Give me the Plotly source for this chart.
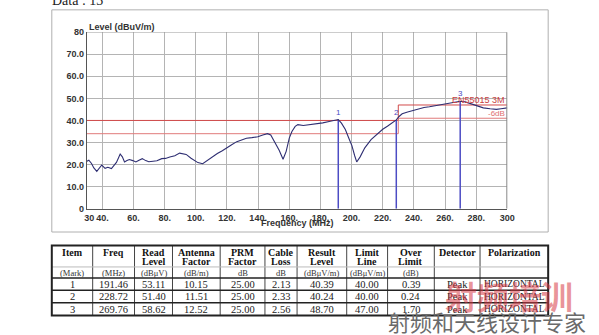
import plotly.graph_objects as go

W, H = 599, 335

# ---------------- data ----------------
freq = [30, 31.3, 33, 34.5, 36.4, 38, 39.6, 41.7, 43.5, 45.8, 47.9, 49, 50.3, 51.4, 52.8,
        54.2, 55.8, 57.3, 59.5, 61.5, 63.5, 65.6, 67.8, 69.8, 72.5, 75, 78.1, 80.5, 83.3,
        86.5, 89.6, 91.5, 93.8, 96.9, 99, 101.3, 104.4, 107.5, 110.5, 113.8, 117, 120, 123,
        126.3, 129.5, 132.5, 136, 139.8, 143, 146, 148.1, 151, 153.5, 156, 158, 160, 161.7,
        163.8, 165.5, 169, 173, 177.3, 181.5, 185.6, 188.5, 191.46, 193.5, 196, 198.5, 200.2,
        202, 203.3, 205.5, 208.5, 212.5, 216.9, 220, 223, 226, 228.72, 230.5, 232.5, 236,
        239.5, 242.9, 246.5, 250, 253.3, 257.5, 261.7, 265.5, 269.76, 273, 276.3, 280.5,
        284.6, 289, 293, 296, 300]
level = [21.5, 22.0, 20.5, 18.5, 16.9, 18.3, 19.8, 18.3, 18.8, 18.2, 20.4, 21.0, 23.0, 24.8,
         23.5, 21.2, 21.8, 22.3, 21.8, 21.2, 22.0, 22.7, 21.8, 21.3, 21.5, 21.7, 22.7, 22.8,
         23.4, 24.0, 25.2, 24.9, 24.6, 22.9, 21.8, 20.9, 20.4, 22.0, 23.4, 25.0, 26.3, 27.8,
         29.0, 30.4, 31.2, 31.9, 32.2, 32.6, 33.4, 34.0, 33.4, 30.0, 26.5, 22.4, 26.0, 32.0,
         35.0, 37.3, 38.1, 37.7, 38.0, 38.4, 38.9, 39.5, 39.9, 40.39, 38.8, 35.9, 31.5, 28.6,
         24.0, 21.2, 23.5, 27.6, 31.3, 34.3, 36.0, 37.4, 38.9, 40.24, 41.8, 43.0, 43.8, 44.6,
         45.3, 45.9, 46.2, 46.6, 47.0, 47.6, 48.1, 48.70, 48.4, 47.6, 46.6, 45.7, 45.3, 45.0,
         45.3, 45.7]

limit_freq = [30, 230, 230, 300]
limit_level = [40, 40, 47, 47]
limit6_level = [34, 34, 41, 41]

mark_id = ["1", "2", "3"]
mark_freq = [191.46, 228.72, 269.76]
mark_level = [40.39, 40.24, 48.70]

x_tickvals = [30, 40, 60, 80, 100, 120, 140, 160, 180, 200, 220, 240, 260, 280, 300]
x_ticktext = ["\u00a0\u00a030", "40.", "60.", "80.", "100.", "120.", "140.", "160.",
              "180.", "200.", "220.", "240.", "260.", "280.", "300"]
y_tickvals = [0, 10, 20, 30, 40, 50, 60, 70, 80]
y_ticktext = ["0", "10.0", "20.0", "30.0", "40.0", "50.0", "60.0", "70.0", "80"]

col_headers = ["Item", "Freq", "Read<br>Level", "Antenna<br>Factor", "PRM<br>Factor",
               "Cable<br>Loss", "Result<br>Level", "Limit<br>Line", "Over<br>Limit",
               "Detector", "Polarization"]
col_units = ["(Mark)", "(MHz)", "(dBμV)", "(dB/m)", "dB", "dB", "(dBμV/m)", "(dBμV/m)",
             "(dB)", "", ""]
t_item = ["1", "2", "3"]
t_freq = ["191.46", "228.72", "269.76"]
t_read = ["53.11", "51.40", "58.62"]
t_ant = ["10.15", "11.51", "12.52"]
t_prm = ["25.00", "25.00", "25.00"]
t_cable = ["2.13", "2.33", "2.56"]
t_result = ["40.39", "40.24", "48.70"]
t_limit = ["40.00", "40.00", "47.00"]
t_over = ["0.39", "0.24", "1.70"]
t_det = ["Peak", "Peak", "Peak"]
t_pol = ["HORIZONTAL", "HORIZONTAL", "HORIZONTAL"]


def px(x):
    return x / W


def py(y):
    return 1 - y / H


fig = go.Figure()

# limit lines
fig.add_trace(go.Scatter(x=limit_freq, y=limit_level, mode="lines",
                         line=dict(color="#d24a4a", width=1), hoverinfo="skip"))
fig.add_trace(go.Scatter(x=limit_freq, y=limit6_level, mode="lines",
                         line=dict(color="#e07a7a", width=1), hoverinfo="skip"))

# marker verticals
for f, l in zip(mark_freq, mark_level):
    fig.add_trace(go.Scatter(x=[f, f], y=[0, l], mode="lines",
                             line=dict(color="#4c4cc4", width=1.5), hoverinfo="skip"))

# trace
fig.add_trace(go.Scatter(x=freq, y=level, mode="lines",
                         line=dict(color="#2e2e72", width=1.1), hoverinfo="skip"))

tickfont = dict(family="Liberation Sans, Arial", size=9, color="#333", weight="bold")

fig.update_layout(
    width=W, height=H, margin=dict(l=0, r=0, t=0, b=0),
    paper_bgcolor="white", plot_bgcolor="white", showlegend=False,
    xaxis=dict(domain=[px(81), px(513)], range=[30, 300], tickvals=x_tickvals,
               ticktext=x_ticktext, showgrid=True, gridcolor="#b4b4b4", gridwidth=1,
               showline=True, linecolor="#555", linewidth=1, ticks="", zeroline=False,
               tickangle=0, tickfont=tickfont, fixedrange=True),
    yaxis=dict(domain=[py(210), py(28)], range=[0, 80], tickvals=y_tickvals,
               ticktext=y_ticktext, showgrid=True, gridcolor="#b4b4b4", gridwidth=1,
               showline=True, linecolor="#555", linewidth=1, ticks="", zeroline=False,
               tickfont=tickfont, fixedrange=True),
)

shapes = [
    # outer frame
    dict(type="rect", xref="paper", yref="paper", x0=px(45), x1=px(555), y0=py(234), y1=py(5),
         line=dict(color="#b0b0b0", width=1)),
    # plot top & right border
    dict(type="line", xref="x", yref="y", x0=30, x1=300, y0=80, y1=80,
         line=dict(color="#999", width=1)),
    dict(type="line", xref="x", yref="y", x0=300, x1=300, y0=0, y1=80,
         line=dict(color="#8a8a8a", width=2)),
]

annotations = [
    dict(text="Data : 13", xref="paper", yref="paper", x=px(43), y=py(-5), xanchor="left",
         yanchor="middle", showarrow=False,
         font=dict(family="Liberation Serif, Times New Roman", size=14, color="#222")),
    dict(text="Level (dBuV/m)", xref="paper", yref="paper", x=px(81), y=py(22.5),
         xanchor="left", yanchor="middle", showarrow=False,
         font=dict(family="Liberation Sans, Arial", size=9, color="#333", weight="bold")),
    dict(text="Frequency (MHz)", xref="paper", yref="paper", x=px(297), y=py(224.5),
         xanchor="center", yanchor="middle", showarrow=False,
         font=dict(family="Liberation Sans, Arial", size=9, color="#333", weight="bold")),
    dict(text="EN55015 3M", xref="x", yref="y", x=300, y=49.2, xanchor="right",
         yanchor="middle", showarrow=False,
         font=dict(family="Liberation Sans, Arial", size=9, color="#c84040")),
    dict(text="-6dB", xref="x", yref="y", x=300, y=43.2, xanchor="right",
         yanchor="middle", showarrow=False,
         font=dict(family="Liberation Sans, Arial", size=8, color="#e07070")),
]
for mid, f, l in zip(mark_id, mark_freq, mark_level):
    annotations.append(dict(text=mid, xref="x", yref="y", x=f, y=l, yanchor="bottom",
                            showarrow=False, yshift=1,
                            font=dict(family="Liberation Sans, Arial", size=8,
                                      color="#4c4cc4")))

# ---------------- table (lines + texts) ----------------
columns = [t_item, t_freq, t_read, t_ant, t_prm, t_cable, t_result, t_limit, t_over,
           t_det, t_pol]
col_edges = [45, 87, 130, 169, 218, 264, 297, 348, 390, 438, 485, 555]
row_edges = [248, 270, 281.5, 294, 307, 320]
serif = "Liberation Serif, Times New Roman"

for xe in col_edges[1:-1]:
    shapes.append(dict(type="line", xref="paper", yref="paper", x0=px(xe), x1=px(xe),
                       y0=py(row_edges[0]), y1=py(row_edges[-1]),
                       line=dict(color="#444", width=1)))
shapes.append(dict(type="line", xref="paper", yref="paper", x0=px(45), x1=px(555),
                   y0=py(row_edges[1]), y1=py(row_edges[1]), line=dict(color="#bbb", width=1)))
for ye in row_edges[2:-1]:
    shapes.append(dict(type="line", xref="paper", yref="paper", x0=px(45), x1=px(555),
                       y0=py(ye), y1=py(ye), line=dict(color="#222", width=1.5)))
shapes.append(dict(type="rect", xref="paper", yref="paper", x0=px(45), x1=px(555),
                   y0=py(row_edges[-1]), y1=py(row_edges[0]),
                   line=dict(color="#222", width=2)))

for i, (hdr, unit, vals) in enumerate(zip(col_headers, col_units, columns)):
    cx = (col_edges[i] + col_edges[i + 1]) / 2
    for j, part in enumerate(hdr.split("<br>")):
        annotations.append(dict(text=part, xref="paper", yref="paper", x=px(cx),
                                y=py(255 + j * 9.3), xanchor="center", yanchor="middle",
                                showarrow=False,
                                font=dict(family=serif, size=10, color="#111", weight="bold")))
    if unit:
        annotations.append(dict(text=unit, xref="paper", yref="paper", x=px(cx), y=py(276),
                                xanchor="center", yanchor="middle", showarrow=False,
                                font=dict(family=serif, size=8.5, color="#333")))
    for k, v in enumerate(vals):
        yc = (row_edges[k + 2] + row_edges[k + 3]) / 2
        annotations.append(dict(text=v, xref="paper", yref="paper", x=px(cx), y=py(yc),
                                xanchor="center", yanchor="middle", showarrow=False,
                                font=dict(family=serif, size=10.5 if i < 10 else 9.5,
                                          color="#222")))

# watermark
annotations += [
    dict(text="射频培训", xref="paper", yref="paper", x=px(515), y=py(299),
         xanchor="center", yanchor="middle", showarrow=False,
         font=dict(family="Noto Sans CJK SC", size=32, color="rgba(215,55,65,0.55)",
                   weight="bold")),
    dict(text="射频和天线设计专家", xref="paper", yref="paper", x=px(492), y=py(326),
         xanchor="center", yanchor="middle", showarrow=False,
         font=dict(family="Noto Sans CJK SC", size=22, color="#6a6a6a")),
]

fig.update_layout(shapes=shapes, annotations=annotations)

fig.write_html("out.html", config=dict(displayModeBar=False))
